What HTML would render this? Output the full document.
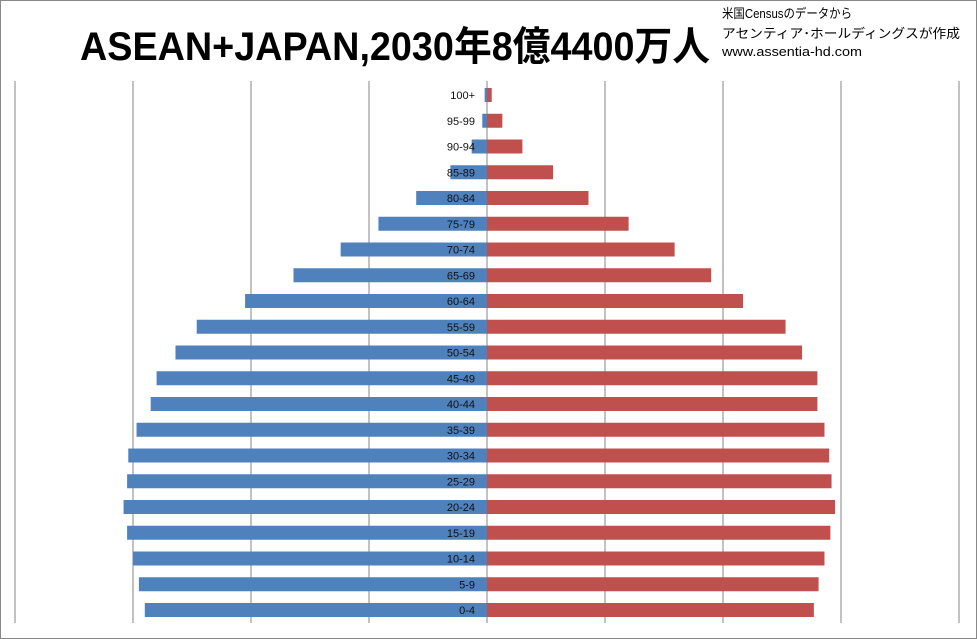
<!DOCTYPE html>
<html><head><meta charset="utf-8"><style>
body{margin:0;background:#fff}
svg{display:block}
</style></head><body>
<svg width="977" height="639" viewBox="0 0 977 639" xmlns="http://www.w3.org/2000/svg">
<rect x="0.5" y="0.5" width="976" height="638" fill="#fff" stroke="#888"/>
<text x="80" y="60" font-family="Liberation Sans, Noto Sans CJK JP, sans-serif" font-weight="bold" font-size="40" textLength="630" lengthAdjust="spacingAndGlyphs" fill="#000">ASEAN+JAPAN,2030年8億4400万人</text>
<g font-family="Liberation Sans, Noto Sans CJK JP, sans-serif" font-size="13" fill="#000">
<text x="722" y="18" textLength="130" lengthAdjust="spacingAndGlyphs">米国Censusのデータから</text>
<text x="722" y="38" textLength="238" lengthAdjust="spacingAndGlyphs">アセンティア･ホールディングスが作成</text>
<text x="722" y="56" textLength="140" lengthAdjust="spacingAndGlyphs">www.assentia-hd.com</text>
</g>
<g id="grid"></g>
<g id="bars"></g>
<g id="labels"></g>
</svg>
<script>
const categories = ["100+","95-99","90-94","85-89","80-84","75-79","70-74","65-69","60-64","55-59","50-54","45-49","40-44","35-39","30-34","25-29","20-24","15-19","10-14","5-9","0-4"];
const maleValues = [0.2,0.4,1.3,3.1,6.0,9.2,12.4,16.4,20.5,24.6,26.4,28.0,28.5,29.7,30.4,30.5,30.8,30.5,30.0,29.5,29.0];
const femaleValues = [0.4,1.3,3.0,5.6,8.6,12.0,15.9,19.0,21.7,25.3,26.7,28.0,28.0,28.6,29.0,29.2,29.5,29.1,28.6,28.1,27.7];
const gridTicks = [-40,-30,-20,-10,0,10,20,30,40];

const ns="http://www.w3.org/2000/svg";
const cx=487, unit=11.8, top0=95, step=25.75, barH=14;
const xs=v=>cx+v*unit;
const ys=i=>top0+i*step;
const grid=document.getElementById('grid'), bars=document.getElementById('bars'), labels=document.getElementById('labels');
gridTicks.forEach(t=>{
  const l=document.createElementNS(ns,'line');
  l.setAttribute('x1',xs(t));l.setAttribute('x2',xs(t));
  l.setAttribute('y1',81);l.setAttribute('y2',623);
  l.setAttribute('stroke','#868686');l.setAttribute('stroke-width',1);
  
  
  grid.appendChild(l);
});
categories.forEach((c,i)=>{
  const y=ys(i);
  const m=document.createElementNS(ns,'rect');
  m.setAttribute('x',xs(-maleValues[i]));m.setAttribute('y',y-barH/2);
  m.setAttribute('width',maleValues[i]*unit);m.setAttribute('height',barH);
  m.setAttribute('fill','#4f81bd');
  
  
  bars.appendChild(m);
  const f=document.createElementNS(ns,'rect');
  f.setAttribute('x',cx);f.setAttribute('y',y-barH/2);
  f.setAttribute('width',femaleValues[i]*unit);f.setAttribute('height',barH);
  f.setAttribute('fill','#c0504d');
  
  
  bars.appendChild(f);
  const t=document.createElementNS(ns,'text');
  t.setAttribute('x',475);t.setAttribute('y',y+4);
  t.setAttribute('text-anchor','end');
  t.setAttribute('font-family','Liberation Sans, sans-serif');
  t.setAttribute('font-size','11');t.setAttribute('fill','#111');
  t.textContent=c;
  
  
  labels.appendChild(t);
});
</script>
</body></html>
